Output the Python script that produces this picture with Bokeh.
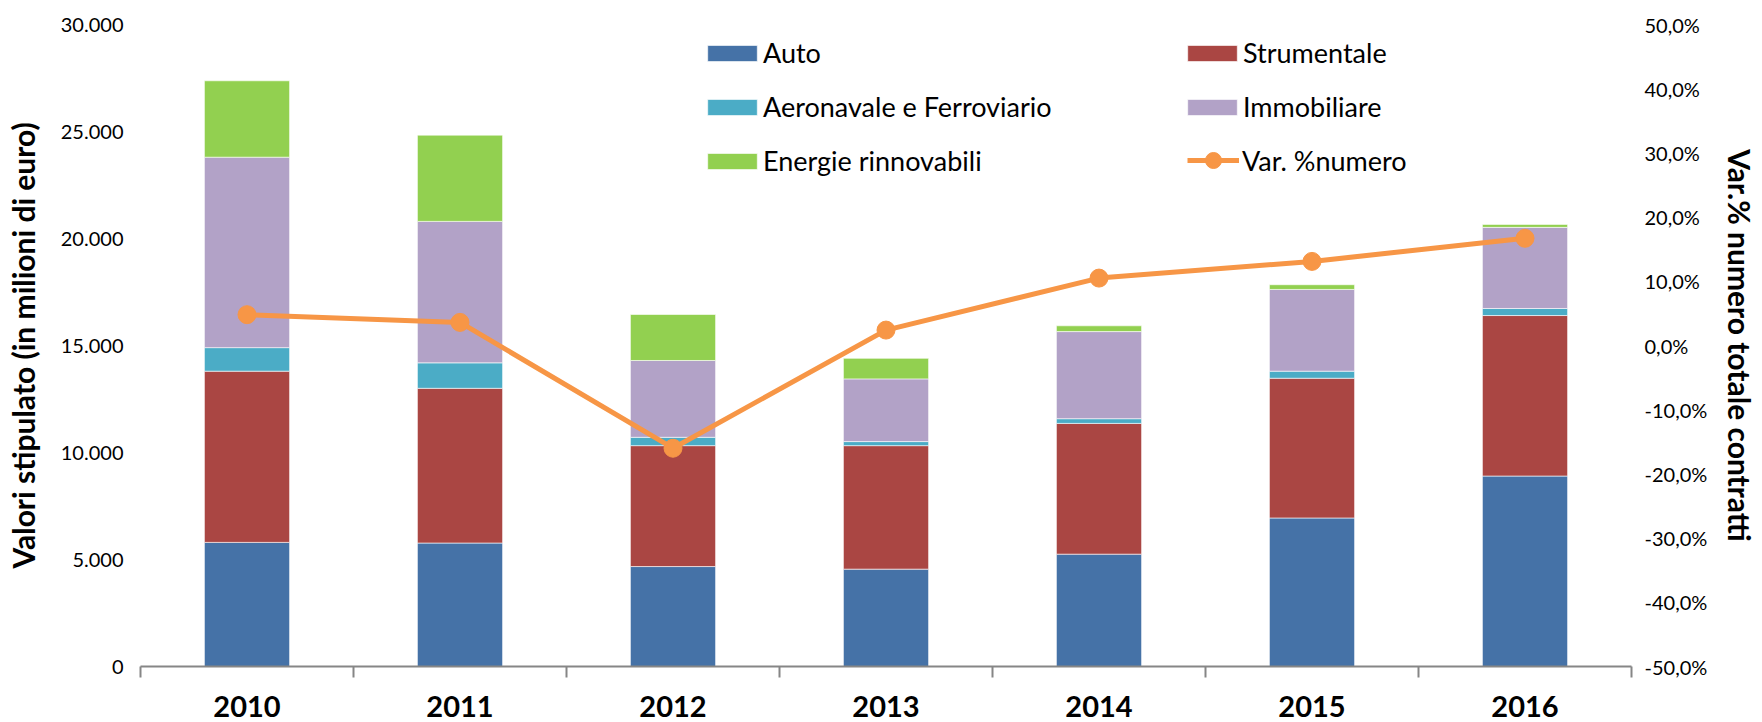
from bokeh.plotting import figure
from bokeh.models import (Range1d, LinearAxis, FixedTicker, CustomJSTickFormatter,
                          Legend, LegendItem, ColumnDataSource)
from bokeh.embed import file_html
from bokeh.resources import INLINE

years = ["2010", "2011", "2012", "2013", "2014", "2015", "2016"]
auto = [5800, 5770, 4670, 4550, 5250, 6940, 8900]
strumentale = [8000, 7230, 5650, 5770, 6110, 6530, 7500]
aeronavale = [1100, 1190, 390, 190, 220, 330, 330]
immobiliare = [8900, 6610, 3590, 2930, 4070, 3820, 3790]
energie = [3570, 4030, 2150, 960, 270, 220, 140]
var_numero = [4.8, 3.6, -16.0, 2.4, 10.5, 13.1, 16.7]

series_names = ["Auto", "Strumentale", "Aeronavale e Ferroviario", "Immobiliare", "Energie rinnovabili"]
series_keys = ["auto", "strumentale", "aeronavale", "immobiliare", "energie"]
colors = ["#4572A7", "#AA4643", "#4BACC6", "#B2A2C7", "#92D050"]
line_color = "#F79646"

FONT = "Lato"
n = len(years)
xs = [i + 0.5 for i in range(n)]

source = ColumnDataSource(dict(x=xs, auto=auto, strumentale=strumentale, aeronavale=aeronavale,
                               immobiliare=immobiliare, energie=energie, var=var_numero))

p = figure(width=1762, height=722, x_range=Range1d(0, n), y_range=Range1d(0, 30000),
           output_backend="svg", toolbar_location=None,
           min_border_left=140, min_border_right=131, min_border_top=24, min_border_bottom=56)
p.grid.visible = False
p.outline_line_color = None
p.background_fill_color = "white"
p.border_fill_color = "white"

bars = p.vbar_stack(series_keys, x="x", width=0.4, color=colors, source=source,
                    line_color="white", line_alpha=0.6, line_width=1)

p.extra_y_ranges = {"pct": Range1d(-50, 50)}
ln = p.line("x", "var", source=source, y_range_name="pct", line_color=line_color, line_width=5)
sc = p.scatter("x", "var", source=source, y_range_name="pct", size=18,
               fill_color=line_color, line_color=line_color)

# x axis
xa = p.xaxis[0]
xa.ticker = FixedTicker(ticks=xs, minor_ticks=list(range(n + 1)))
xa.major_label_overrides = {x: y for x, y in zip(xs, years)}
xa.major_tick_line_color = None
xa.major_tick_out = 0
xa.major_tick_in = 0
xa.minor_tick_line_color = "#868686"
xa.minor_tick_line_width = 2
xa.minor_tick_out = 11
xa.minor_tick_in = 0
xa.axis_line_color = "#868686"
xa.axis_line_width = 2
xa.major_label_text_font = FONT
xa.major_label_text_font_style = "bold"
xa.major_label_text_font_size = "29px"
xa.major_label_text_color = "black"
xa.major_label_standoff = 18

# left y axis
ya = p.yaxis[0]
ya.ticker = FixedTicker(ticks=list(range(0, 30001, 5000)))
ya.formatter = CustomJSTickFormatter(code="""
    return tick.toFixed(0).replace(/\\B(?=(\\d{3})+(?!\\d))/g, '.');
""")
ya.axis_line_color = None
ya.major_tick_line_color = None
ya.minor_tick_line_color = None
ya.major_tick_out = 0
ya.major_label_standoff = 17
ya.major_label_text_font = FONT
ya.major_label_text_font_size = "20px"
ya.major_label_text_color = "black"
ya.axis_label = "Valori stipulato (in milioni di euro)"
ya.axis_label_text_font = FONT
ya.axis_label_text_font_style = "bold"
ya.axis_label_text_font_size = "30px"
ya.axis_label_text_color = "black"
ya.axis_label_standoff = 17

# right y axis
ra = LinearAxis(y_range_name="pct")
ra.ticker = FixedTicker(ticks=list(range(-50, 51, 10)))
ra.formatter = CustomJSTickFormatter(code="""
    return tick.toFixed(1).replace('.', ',') + '%';
""")
ra.axis_line_color = None
ra.major_tick_line_color = None
ra.minor_tick_line_color = None
ra.major_tick_out = 0
ra.major_label_standoff = 13
ra.major_label_text_font = FONT
ra.major_label_text_font_size = "20px"
ra.major_label_text_color = "black"
ra.axis_label = "Var.% numero totale contratti"
ra.axis_label_text_font = FONT
ra.axis_label_text_font_style = "bold"
ra.axis_label_text_font_size = "30px"
ra.axis_label_text_color = "black"
ra.axis_label_standoff = 12
p.add_layout(ra, "right")

# legends
def make_legend(items, loc, gw=62, gh=20, standoff=0):
    leg = Legend(items=items, location=loc, orientation="vertical")
    leg.border_line_color = None
    leg.background_fill_alpha = 0
    leg.padding = 0
    leg.margin = 0
    leg.spacing = 21
    leg.glyph_width = gw
    leg.glyph_height = gh
    leg.label_standoff = standoff
    leg.label_text_font = FONT
    leg.label_text_font_size = "27px"
    leg.label_text_color = "black"
    return leg

items1 = [LegendItem(label=series_names[i], renderers=[bars[i]]) for i in (0, 2, 4)]
items2 = [LegendItem(label=series_names[i], renderers=[bars[i]]) for i in (1, 3)]
items3 = [LegendItem(label="Var. %numero", renderers=[ln, sc])]
p.add_layout(make_legend(items1, (561, 489)), "center")
p.add_layout(make_legend(items2, (1041, 543)), "center")
p.add_layout(make_legend(items3, (1047, 486), gw=52, gh=40, standoff=3), "center")

open("out.html", "w").write(file_html(p, INLINE))
